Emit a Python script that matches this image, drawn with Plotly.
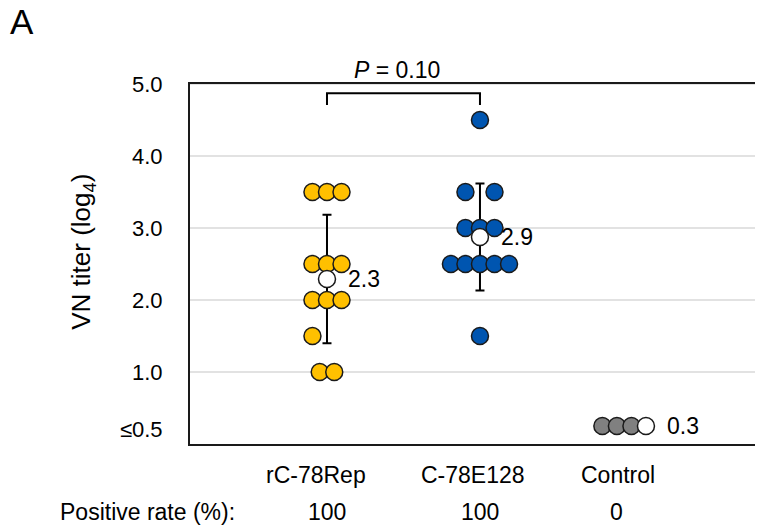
import numpy as np
import plotly.graph_objects as go

# ---------------- data ----------------
groups = ["rC-78Rep", "C-78E128", "Control"]
positive_rate = ["100", "100", "0"]

rc78rep_values = [3.5, 3.5, 3.5, 2.5, 2.5, 2.5, 2.0, 2.0, 2.0, 1.5, 1.0, 1.0]
c78e128_values = [4.5, 3.5, 3.5, 3.0, 3.0, 3.0, 2.5, 2.5, 2.5, 2.5, 2.5, 1.5]
control_values = [0.25, 0.25, 0.25]

mean_labels = ["2.3", "2.9", "0.3"]
y_tick_vals = [0.2, 1, 2, 3, 4, 5]
y_tick_text = ["≤0.5", "1.0", "2.0", "3.0", "4.0", "5.0"]
grid_vals = [1, 2, 3, 4, 5]
p_value_text = "<i>P</i> = 0.10"

# ---------------- layout helpers (positions / styles) ----------------
X_RANGE = [0.1046, 3.85]
Y_RANGE = [0, 5]
group_x = [1.0, 2.0, 2.895]
label_x = [0.93, 1.955, 2.90]
step = 0.095
rc78rep_slots = [-1, 0, 1, -1, 0, 1, -1, 0, 1, -1, -0.5, 0.5]
c78e128_slots = [0, -1, 1, -1, 0, 1, -2, -1, 0, 1, 2, 0]
control_slots = [-1, 0, 1]
mean_slot = [0, 0, 2]

colors = ["#FFC000", "#0055B0", "#808080"]
FONT = "Liberation Sans, Arial, sans-serif"
EDGE = "#1a1a1a"
PLOT_W = 573  # plot-area width in px (for placing the panel letter)


def px(x):
    return (x - X_RANGE[0]) / (X_RANGE[1] - X_RANGE[0])


def py(y):
    return (y - Y_RANGE[0]) / (Y_RANGE[1] - Y_RANGE[0])


all_values = [rc78rep_values, c78e128_values, control_values]
all_slots = [rc78rep_slots, c78e128_slots, control_slots]

means = [float(np.mean(v)) for v in all_values]
sds = [float(np.std(v, ddof=1)) for v in all_values]

fig = go.Figure()

# error bars (behind dots)
fig.add_trace(go.Scatter(
    x=group_x[:2], y=means[:2], mode="markers",
    marker=dict(size=1, opacity=0),
    error_y=dict(type="data", array=sds[:2], color="#000000", thickness=2, width=4.5),
    hoverinfo="skip", showlegend=False,
))

# individual dots
for gi in range(3):
    xs = [group_x[gi] + s * step for s in all_slots[gi]]
    for x, y in zip(xs, all_values[gi]):
        fig.add_trace(go.Scatter(
            x=[x], y=[y], mode="markers",
            marker=dict(size=17, color=colors[gi], line=dict(color=EDGE, width=1.5)),
            showlegend=False, hoverinfo="skip",
        ))

# means
mean_x = [group_x[i] + mean_slot[i] * step for i in range(3)]
fig.add_trace(go.Scatter(
    x=mean_x, y=means, mode="markers",
    marker=dict(size=17, color="#FFFFFF", line=dict(color=EDGE, width=1.5)),
    showlegend=False, hoverinfo="skip",
))

shapes = []
for g in grid_vals:
    shapes.append(dict(type="line", xref="paper", x0=0, x1=1, yref="y", y0=g, y1=g,
                       line=dict(color="#D9D9D9", width=1.5), layer="below"))
# significance bracket
b_lo, b_hi = 4.71, 4.87
shapes.append(dict(
    type="path", xref="x", yref="y",
    path=f"M {group_x[0]},{b_lo} L {group_x[0]},{b_hi} L {group_x[1]},{b_hi} L {group_x[1]},{b_lo}",
    line=dict(color="#000000", width=2),
))

annotations = []
txt = dict(family=FONT, size=23, color="#000000")
for i in range(3):
    annotations.append(dict(x=mean_x[i], y=means[i], xref="x", yref="y", text=mean_labels[i],
                            showarrow=False, xanchor="left", yanchor="middle", xshift=19, font=txt))
    annotations.append(dict(x=px(label_x[i]), y=py(-0.43), xref="paper", yref="paper", text=groups[i],
                            showarrow=False, xanchor="center", yanchor="middle", font=txt))
    annotations.append(dict(x=px(group_x[i]), y=py(-0.95), xref="paper", yref="paper",
                            text=positive_rate[i],
                            showarrow=False, xanchor="center", yanchor="middle", font=txt))
annotations.append(dict(x=px(0.41), y=py(-0.95), xref="paper", yref="paper", text="Positive rate (%):",
                        showarrow=False, xanchor="right", yanchor="middle", font=txt))
annotations.append(dict(x=px((group_x[0] + group_x[1]) / 2 - 0.04), y=py(5.2), xref="paper", yref="paper",
                        text=p_value_text,
                        showarrow=False, xanchor="center", yanchor="middle", font=txt))
annotations.append(dict(x=px(-0.595), y=py(2.67), xref="paper", yref="paper",
                        text="VN titer (log<sub>4</sub>)",
                        showarrow=False, textangle=-90, xanchor="center", yanchor="middle",
                        font=dict(family=FONT, size=26, color="#000000")))
annotations.append(dict(x=-182 / PLOT_W, y=py(5.87), xref="paper", yref="paper", text="A",
                        showarrow=False, xanchor="left", yanchor="middle",
                        font=dict(family=FONT, size=35, color="#000000")))

fig.update_layout(
    width=755, height=517,
    margin=dict(l=182, r=0, t=76, b=81),
    paper_bgcolor="#FFFFFF", plot_bgcolor="#FFFFFF",
    shapes=shapes, annotations=annotations,
    xaxis=dict(range=X_RANGE, showgrid=False, zeroline=False, showticklabels=False,
               showline=True, linecolor=EDGE, linewidth=2, mirror=True, ticks=""),
    yaxis=dict(range=Y_RANGE, tickvals=y_tick_vals, ticktext=y_tick_text, showgrid=False,
               zeroline=False, showline=True, linecolor=EDGE, linewidth=2, ticks="",
               ticklabelstandoff=21, tickfont=dict(family=FONT, size=22, color="#000000")),
    font=dict(family=FONT),
)

fig.write_html("out.html")
